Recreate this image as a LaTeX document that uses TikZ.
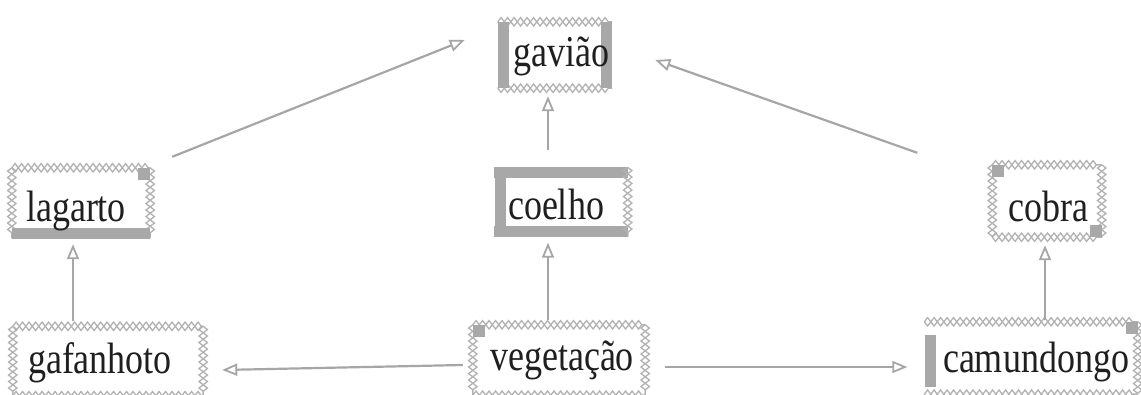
\documentclass[tikz,border=0pt]{standalone}
\usepackage{fontspec}
\setmainfont{Liberation Serif}
\usetikzlibrary{decorations.pathmorphing,arrows.meta}

% zigzag side of a box: two crossing zigzags give the braided edge
\newcommand\zside[2]{%
  \draw[zz] (#1) -- (#2);
  \draw[zzb] (#1) -- (#2);}
% tall lettering
\newcommand\tall[1]{\scalebox{1}[1.22]{#1}}

\tikzset{
  frame/.style={inner sep=0pt},
  lbl/.style={inner sep=0pt, anchor=base, text=black!88,
    font=\fontsize{36}{40}\selectfont},
  zz/.style={draw=gray!60, line width=1.3pt, decorate,
    decoration={zigzag, amplitude=4.2pt, segment length=13pt}},
  zzb/.style={draw=gray!60, line width=1.3pt, decorate,
    decoration={zigzag, amplitude=-4.2pt, segment length=13pt}},
  bar/.style={draw=gray!68, line width=11pt},
  sq/.style={fill=gray!68},
  arr/.style={draw=gray!70, line width=2.2pt,
    -{Triangle[open, length=15pt, width=12pt, line width=1.8pt]}},
}

\begin{document}
\begin{tikzpicture}[x=1pt, y=1pt]
\useasboundingbox (0,0) rectangle (1141,394);
\fill[white] (0,0) rectangle (1141,394);

% frames
\node[frame, minimum width=114pt, minimum height=66pt] (gaviao) at (555,339) {};
\node[frame, minimum width=138pt, minimum height=70pt] (lagarto) at (81,191) {};
\node[frame, minimum width=133pt, minimum height=69pt] (coelho) at (561,192) {};
\node[frame, minimum width=109pt, minimum height=72pt] (cobra) at (1047,193) {};
\node[frame, minimum width=190pt, minimum height=69pt] (gafanhoto) at (108,33) {};
\node[frame, minimum width=172pt, minimum height=70pt] (vegetacao) at (559,34) {};
\node[frame, minimum width=213pt, minimum height=72pt] (camundongo) at (1031,36) {};

% gavião: zigzag top and bottom, bars left and right
\zside{gaviao.north west}{gaviao.north east}
\zside{gaviao.south west}{gaviao.south east}
\draw[bar] ([xshift=6pt]gaviao.north west) -- ([xshift=6pt]gaviao.south west);
\draw[bar] ([xshift=-6pt]gaviao.north east) -- ([xshift=-6pt]gaviao.south east);

% lagarto
\zside{lagarto.north west}{lagarto.north east}
\zside{lagarto.north west}{lagarto.south west}
\zside{lagarto.north east}{lagarto.south east}
\draw[bar] ([yshift=5pt]lagarto.south west) -- ([yshift=5pt]lagarto.south east);
\fill[sq] (lagarto.north east) rectangle ++(-12,-12);

% coelho
\draw[bar] ([yshift=-5pt]coelho.north west) -- ([yshift=-5pt]coelho.north east);
\draw[bar] ([yshift=5pt]coelho.south west) -- ([yshift=5pt]coelho.south east);
\draw[bar] ([xshift=6pt]coelho.north west) -- ([xshift=6pt]coelho.south west);
\zside{coelho.north east}{coelho.south east}

% cobra
\zside{cobra.north west}{cobra.north east}
\zside{cobra.south west}{cobra.south east}
\zside{cobra.north west}{cobra.south west}
\zside{cobra.north east}{cobra.south east}
\fill[sq] (cobra.north west) rectangle ++(12,-12);
\fill[sq] (cobra.south east) rectangle ++(-12,12);

% gafanhoto
\zside{gafanhoto.north west}{gafanhoto.north east}
\zside{gafanhoto.south west}{gafanhoto.south east}
\zside{gafanhoto.north west}{gafanhoto.south west}
\zside{gafanhoto.north east}{gafanhoto.south east}

% vegetação
\zside{vegetacao.north west}{vegetacao.north east}
\zside{vegetacao.south west}{vegetacao.south east}
\zside{vegetacao.north west}{vegetacao.south west}
\zside{vegetacao.north east}{vegetacao.south east}
\fill[sq] (vegetacao.north west) rectangle ++(12,-12);

% camundongo
\zside{camundongo.north west}{camundongo.north east}
\zside{camundongo.south west}{camundongo.south east}
\zside{camundongo.north east}{camundongo.south east}
\draw[bar] ([xshift=6pt,yshift=-13pt]camundongo.north west) -- ([xshift=6pt,yshift=7pt]camundongo.south west);
\fill[sq] (camundongo.north east) rectangle ++(-12,-12);

% labels
\node[lbl] (gaviao-t) at (561,327) {\tall{gavião}};
\node[lbl] (lagarto-t) at (76,172) {\tall{lagarto}};
\node[lbl] (coelho-t) at (556,174) {\tall{coelho}};
\node[lbl] (cobra-t) at (1048,172) {\tall{cobra}};
\node[lbl] (gafanhoto-t) at (100,21) {\tall{gafanhoto}};
\node[lbl] (vegetacao-t) at (562,24) {\tall{vegetação}};
\node[lbl] (camundongo-t) at (1036,22) {\tall{camundongo}};

% connectors
\draw[arr] ([shift={(22,11)}]lagarto.north east) -- ([shift={(-33,15)}]gaviao.west);
\draw[arr] ([shift={(-13,17)}]coelho.north) -- ([shift={(-7,-8)}]gaviao.south);
\draw[arr] ([shift={(-75,12)}]cobra.north west) -- ([shift={(43,-5)}]gaviao.east);
\draw[arr] ([shift={(-35,5)}]gafanhoto.north) -- ([shift={(-8,-6)}]lagarto.south);
\draw[arr] ([shift={(-11,5)}]vegetacao.north) -- ([shift={(-13,-6)}]coelho.south);
\draw[arr] ([shift={(14,2)}]camundongo.north) -- ([shift={(-2,-8)}]cobra.south);
\draw[arr] ([shift={(-10,-5)}]vegetacao.west) -- ([shift={(19,-9)}]gafanhoto.east);
\draw[arr] ([shift={(20,-7)}]vegetacao.east) -- ([shift={(-17,-9)}]camundongo.west);
\end{tikzpicture}
\end{document}
